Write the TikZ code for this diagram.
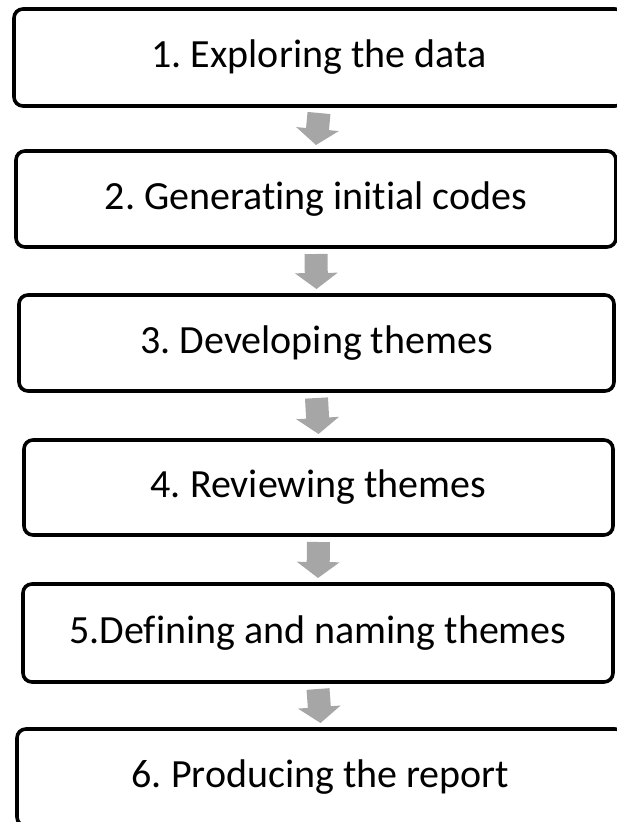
\documentclass[tikz,border=0pt]{standalone}
\usepackage{fontspec}
\setmainfont{Carlito}[Ligatures={NoCommon}]
\usetikzlibrary{arrows.meta}

\tikzset{
  stage/.style={draw=black, line width=3.6pt, rounded corners=9pt, fill=white,
    outer sep=0pt, inner sep=0pt, minimum height=96pt,
    font=\fontsize{40}{46}\selectfont\frenchspacing},
  flow/.style={draw=flowgray, line width=23pt,
    -{Triangle[width=42pt,length=16pt]}}
}
\definecolor{flowgray}{RGB}{166,166,166}

\begin{document}
\begin{tikzpicture}[x=1pt,y=-1pt]
                \useasboundingbox (0,0) rectangle (616,822);

                % Draw the six stages
                \node[stage, minimum width=610pt, minimum height=97pt] (s1) at (319,57.5) {1. Exploring the data};
                \node[stage, minimum width=600pt] (s2) at (316,199) {2. Generating initial codes};
                \node[stage, minimum width=595pt] (s3) at (316.5,343) {3. Developing themes};
                \node[stage, minimum width=589pt, minimum height=95pt] (s4) at (318.5,487.5) {4. Reviewing themes};
                \node[stage, minimum width=590pt, minimum height=98pt] (s5) at (318,633) {5.Defining and naming themes};
                \node[stage, minimum width=607pt, minimum height=97pt] (s6) at (320.5,777.5) {6. Producing the report};

                % Draw the arrows between stages
                \draw[flow] ([yshift=-7pt]s1.south) -- ([yshift=6pt]s2.north);
                \draw[flow] ([yshift=-7pt]s2.south) -- ([yshift=6pt]s3.north);
                \draw[flow] ([yshift=-7pt]s3.south) -- ([yshift=6pt]s4.north);
                \draw[flow] ([yshift=-7pt]s4.south) -- ([yshift=6pt]s5.north);
                \draw[flow] ([yshift=-7pt]s5.south) -- ([yshift=6pt]s6.north);

            \end{tikzpicture}
\end{document}
